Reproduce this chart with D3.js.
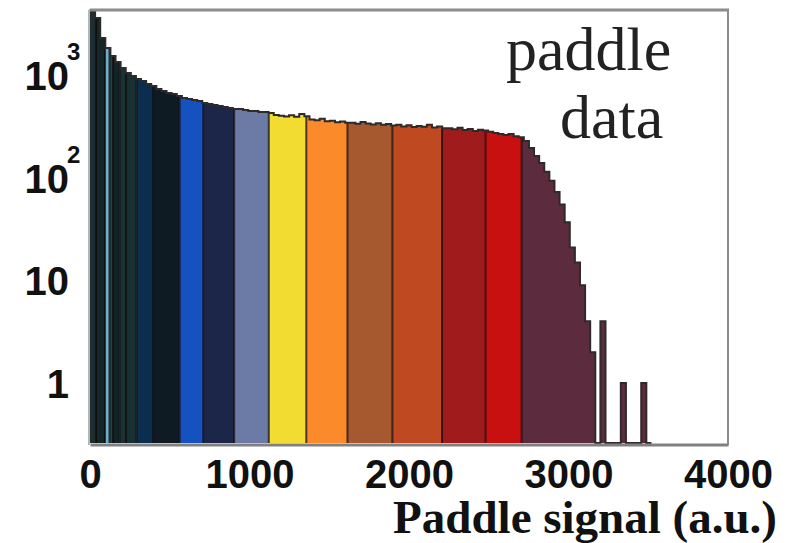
<!DOCTYPE html>
<html>
<head>
<meta charset="utf-8">
<script src="https://cdn.jsdelivr.net/npm/d3@7"></script>
<style>
  body { margin: 0; background: #fff; }
  svg { display: block; }
</style>
</head>
<body>
<svg id="chart" width="788" height="543"></svg>
<script>
// Histogram of paddle signal, 32-unit bins starting at 0
const binWidth = 32;
const counts = [
  4300, 3640, 2320, 1850, 1550, 1355, 1183, 1058, 990, 925,
  884, 826, 790, 739, 706, 675, 660, 631, 603, 590,
  577, 564, 539, 527, 515, 504, 493, 482, 471, 471,
  460, 451, 451, 441, 441, 431, 412, 405, 398, 408,
  395, 420, 400, 372, 365, 378, 358, 362, 350, 355,
  346, 345, 338, 352, 340, 333, 342, 330, 336, 325,
  330, 318, 326, 314, 322, 316, 331, 310, 318, 306,
  305, 298, 309, 293, 300, 288, 296, 290, 282, 275,
  268, 262, 268, 256, 250, 230, 196, 164, 140, 115,
  94, 73, 55, 37, 21, 15, 9, 4, 2, 0,
  4, 0, 0, 0, 1, 0, 0, 0, 1, 0
];

// Signal ranges shaded in their own colour
const bandEdges = [0, 38, 94, 122, 144, 185, 226, 292, 396, 562, 710, 904,
  1121, 1356, 1614, 1896, 2207, 2480, 2706, 4000];
const bandColors = [
  "#1c3034", "#14262a", "#6ab0c8", "#24444a", "#132428", "#1a3236",
  "#173034", "#0b2d4e", "#0e1b22", "#1552c0", "#1c2648", "#6c7ba6",
  "#f2dc32", "#fb8a2a", "#a6582e", "#bf4a22", "#a01c1c", "#c81010",
  "#5c2c3e"
];

const xTicks = [0, 1000, 2000, 3000, 4000];
const yTicks = [1, 10, 100, 1000];
const xTitle = "Paddle signal (a.u.)";
const noteLines = ["paddle", "data"];

const svg = d3.select("#chart");
const plot = { left: 90, right: 728, top: 10, bottom: 443 };

const x = d3.scaleLinear().domain([0, 4000]).range([plot.left, plot.right]);
const y = d3.scaleLog().domain([0.26, 4350]).range([plot.bottom, plot.top]);
const yv = v => y(Math.max(v, 0.26));

const bins = counts.map((v, i) => ({ x0: i * binWidth, x1: (i + 1) * binWidth, v }));
const steps = bins.flatMap(b => [{ x: b.x0, v: b.v }, { x: b.x1, v: b.v }]);

const area = d3.area()
  .x(d => x(d.x))
  .y0(plot.bottom)
  .y1(d => yv(d.v));

const defs = svg.append("defs");
const hist = svg.append("g");

// One fill per coloured range, each clipped to its x interval
bandColors.forEach((c, i) => {
  const id = "band" + i;
  defs.append("clipPath").attr("id", id)
    .append("rect")
    .attr("x", x(bandEdges[i]))
    .attr("y", 0)
    .attr("width", x(bandEdges[i + 1]) - x(bandEdges[i]))
    .attr("height", plot.bottom);
  hist.append("path")
    .datum(steps)
    .attr("clip-path", `url(#${id})`)
    .attr("fill", c)
    .attr("d", area);
});

// Dividers between ranges
const countAt = v => counts[Math.min(counts.length - 1, Math.floor(v / binWidth))] || 0;
hist.selectAll("line.divider")
  .data(bandEdges.slice(1, -1))
  .join("line")
  .attr("class", "divider")
  .attr("x1", d => x(d)).attr("x2", d => x(d))
  .attr("y1", plot.bottom)
  .attr("y2", d => yv(countAt(d)))
  .attr("stroke", "rgba(15,8,8,0.72)")
  .attr("stroke-width", 2);

// Histogram outline
const outline = [{ x: 0, v: 0 }, ...steps, { x: bins.length * binWidth, v: 0 }];
hist.append("path")
  .datum(outline)
  .attr("fill", "none")
  .attr("stroke", "#2e2a2a")
  .attr("stroke-width", 2)
  .attr("stroke-linejoin", "miter")
  .attr("d", d3.line().x(d => x(d.x)).y(d => yv(d.v)));

// Frame
svg.append("line")
  .attr("x1", plot.left).attr("x2", plot.right + 1)
  .attr("y1", plot.top).attr("y2", plot.top)
  .attr("stroke", "#8c8c8c").attr("stroke-width", 3);
svg.append("line")
  .attr("x1", plot.right).attr("x2", plot.right)
  .attr("y1", plot.top).attr("y2", plot.bottom + 2)
  .attr("stroke", "#8c8c8c").attr("stroke-width", 2);
svg.append("line")
  .attr("x1", plot.left - 1).attr("x2", plot.left - 1)
  .attr("y1", plot.top).attr("y2", plot.bottom + 2)
  .attr("stroke", "#a9baba").attr("stroke-width", 2);

// X axis
const xAxis = svg.append("g")
  .attr("transform", `translate(0,${plot.bottom})`)
  .call(d3.axisBottom(x).tickValues(xTicks).tickSize(0).tickFormat(d3.format("d")));
xAxis.select(".domain")
  .attr("stroke", "#808080").attr("stroke-width", 3)
  .attr("transform", "translate(0,1.5)");
xAxis.selectAll("text")
  .attr("y", 45).attr("dy", 0)
  .attr("fill", "#111")
  .style("font-family", "'Liberation Sans', Arial, sans-serif")
  .style("font-weight", "bold")
  .style("font-size", "40px");

// Y axis, powers of ten shown with a superscript exponent
const yAxis = svg.append("g")
  .attr("transform", `translate(${plot.left},0)`)
  .call(d3.axisLeft(y).tickValues(yTicks).tickSize(0).tickPadding(21)
    .tickFormat(d => d >= 100 ? "10" : String(d)));
yAxis.select(".domain").remove();
yAxis.selectAll("text")
  .attr("dy", "0.36em")
  .attr("fill", "#111")
  .style("font-family", "'Liberation Sans', Arial, sans-serif")
  .style("font-weight", "bold")
  .style("font-size", "40px");
yAxis.selectAll(".tick").filter(d => d >= 100)
  .append("text")
  .attr("x", -23)
  .attr("y", -15.5)
  .attr("text-anchor", "start")
  .attr("fill", "#111")
  .style("font-family", "'Liberation Sans', Arial, sans-serif")
  .style("font-weight", "bold")
  .style("font-size", "24px")
  .text(d => String(Math.round(Math.log10(d))));

// Axis title
svg.append("text")
  .attr("x", 777).attr("y", 533)
  .attr("text-anchor", "end")
  .attr("fill", "#111")
  .style("font-family", "'Liberation Serif', 'Times New Roman', serif")
  .style("font-weight", "bold")
  .style("font-size", "47px")
  .text(xTitle);

// In-plot note
const notePos = [[506, 70], [560, 138]];
svg.selectAll("text.note")
  .data(noteLines)
  .join("text")
  .attr("class", "note")
  .attr("x", (d, i) => notePos[i][0])
  .attr("y", (d, i) => notePos[i][1])
  .attr("fill", "#222")
  .style("font-family", "'Liberation Serif', 'Times New Roman', serif")
  .style("font-size", "62px")
  .text(d => d);
</script>
</body>
</html>
